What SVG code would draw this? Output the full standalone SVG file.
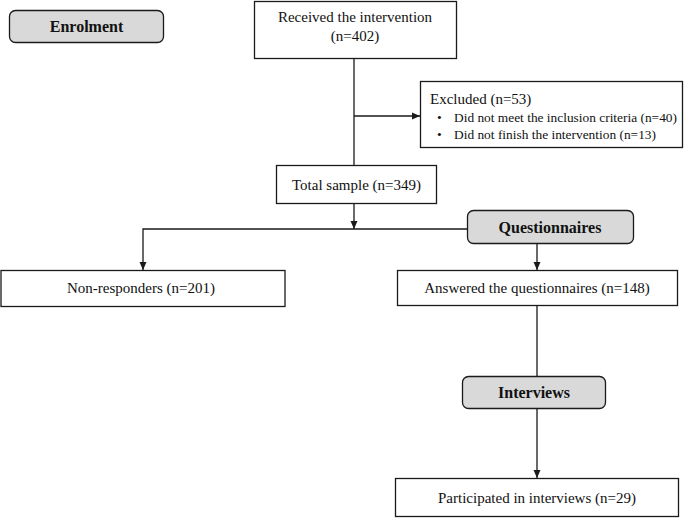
<svg xmlns="http://www.w3.org/2000/svg" width="685" height="518" viewBox="0 0 685 518">
<style>
.box{fill:#fff;stroke:#1a1a1a;stroke-width:1.3}
.hdr{fill:#d9d9d9;stroke:#1a1a1a;stroke-width:1.3}
text{font-family:'Liberation Serif','Times New Roman','DejaVu Serif',serif;fill:#111}
.t{font-size:15px}
.s{font-size:13.5px}
.b{font-size:16px;font-weight:bold}
.c{text-anchor:middle}
.ln{fill:none;stroke:#1a1a1a;stroke-width:1.3}
</style>
<defs>
<marker id="ah" viewBox="0 0 8 8" refX="8" refY="4" markerWidth="8" markerHeight="8" markerUnits="userSpaceOnUse" orient="auto">
<path d="M0,0.5 L8,4 L0,7.5 Z" fill="#1a1a1a"/>
</marker>
</defs>
<g id="connectors">
<path class="ln" d="M354,58 V165"/>
<path class="ln" d="M354,116 H420" marker-end="url(#ah)"/>
<path class="ln" d="M354,204 V229" marker-end="url(#ah)"/>
<path class="ln" d="M467,229 H143 V270" marker-end="url(#ah)"/>
<path class="ln" d="M537,244 V270" marker-end="url(#ah)"/>
<path class="ln" d="M537,306 V376"/>
<path class="ln" d="M537,408 V478" marker-end="url(#ah)"/>
</g>
<g id="enrolment">
<rect class="hdr" x="9.5" y="10.5" width="154" height="32" rx="6"/>
<text class="b c" x="86.5" y="32">Enrolment</text>
</g>
<g id="received">
<rect class="box" x="254.5" y="1.5" width="202" height="57"/>
<text class="t c" x="355" y="22">Received the intervention</text>
<text class="t c" x="355" y="41">(n=402)</text>
</g>
<g id="excluded">
<rect class="box" x="420.5" y="81.5" width="262" height="66"/>
<text class="t" x="430" y="104">Excluded (n=53)</text>
<text class="s" x="437" y="122">•</text>
<text class="s" x="454" y="122" textLength="223" lengthAdjust="spacingAndGlyphs">Did not meet the inclusion criteria (n=40)</text>
<text class="s" x="437" y="139">•</text>
<text class="s" x="454" y="139" textLength="202" lengthAdjust="spacingAndGlyphs">Did not finish the intervention (n=13)</text>
</g>
<g id="total">
<rect class="box" x="276.5" y="165.5" width="160" height="38"/>
<text class="t c" x="356.5" y="190">Total sample (n=349)</text>
</g>
<g id="questionnaires">
<rect class="hdr" x="467.5" y="210.5" width="166" height="33" rx="6"/>
<text class="b c" x="550" y="233">Questionnaires</text>
</g>
<g id="nonresponders">
<rect class="box" x="1" y="270.5" width="284" height="36"/>
<text class="t c" x="141" y="293">Non-responders (n=201)</text>
</g>
<g id="answered">
<rect class="box" x="397.5" y="270.5" width="280" height="35"/>
<text class="t c" x="537" y="293">Answered the questionnaires (n=148)</text>
</g>
<g id="interviews">
<rect class="hdr" x="462.5" y="376.5" width="143" height="32" rx="6"/>
<text class="b c" x="534" y="398">Interviews</text>
</g>
<g id="participated">
<rect class="box" x="395.5" y="478.5" width="283" height="38"/>
<text class="t c" x="537" y="503">Participated in interviews (n=29)</text>
</g>
</svg>
